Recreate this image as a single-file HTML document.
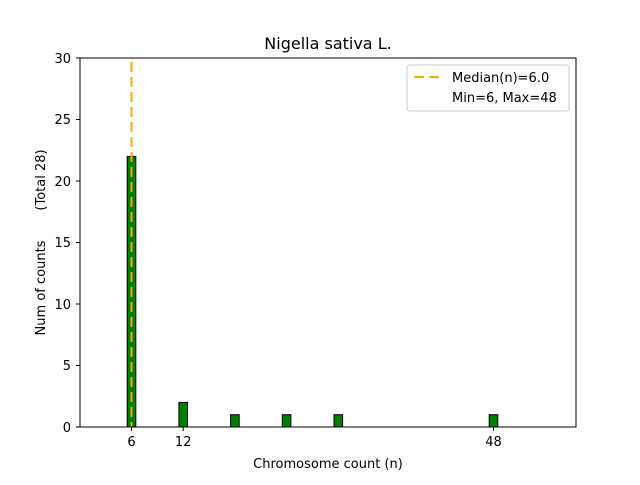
<!DOCTYPE html>
<html><head><meta charset="utf-8"><style>body{margin:0;background:#fff}</style></head><body>
<svg width="640" height="480" xmlns="http://www.w3.org/2000/svg" font-family="DejaVu Sans, Liberation Sans, sans-serif">
<rect width="640" height="480" fill="#fff"/>
<g fill="green" stroke="#000" stroke-width="1">
<rect x="127.2" y="156.4" width="8.6" height="270.6"/>
<rect x="178.9" y="402.4" width="8.6" height="24.6"/>
<rect x="230.6" y="414.7" width="8.6" height="12.3"/>
<rect x="282.3" y="414.7" width="8.6" height="12.3"/>
<rect x="334.0" y="414.7" width="8.6" height="12.3"/>
<rect x="489.2" y="414.7" width="8.6" height="12.3"/>
</g>
<line x1="135.8" y1="427" x2="523" y2="427" stroke="#000" stroke-width="1"/>
<line x1="131.5" y1="62" x2="131.5" y2="427" stroke="orange" stroke-width="2" stroke-dasharray="10,5"/>
<rect x="80" y="58" width="496" height="369" fill="none" stroke="#000" stroke-width="1"/>
<g stroke="#000">
<line x1="131.5" y1="427" x2="131.5" y2="431"/>
<line x1="183.2" y1="427" x2="183.2" y2="431"/>
<line x1="493.5" y1="427" x2="493.5" y2="431"/>
<line x1="76" y1="427" x2="80" y2="427"/>
<line x1="76" y1="365.5" x2="80" y2="365.5"/>
<line x1="76" y1="304" x2="80" y2="304"/>
<line x1="76" y1="242.5" x2="80" y2="242.5"/>
<line x1="76" y1="181" x2="80" y2="181"/>
<line x1="76" y1="119.5" x2="80" y2="119.5"/>
<line x1="76" y1="58" x2="80" y2="58"/>
</g>
<g font-size="13" fill="#000">
<g text-anchor="middle">
<text x="131.5" y="446">6</text>
<text x="183.2" y="446">12</text>
<text x="493.5" y="446">48</text>
<text x="328" y="468">Chromosome count (n)</text>
<text x="328" y="49" font-size="16">Nigella sativa L.</text>
</g>
<g text-anchor="end">
<text x="71" y="432">0</text>
<text x="71" y="370">5</text>
<text x="71" y="309">10</text>
<text x="71" y="247">15</text>
<text x="71" y="186">20</text>
<text x="71" y="124">25</text>
<text x="71" y="63">30</text>
</g>
<text transform="translate(45,288) rotate(-90)" text-anchor="middle">Num of counts</text>
<text transform="translate(45,180) rotate(-90)" text-anchor="middle">(Total 28)</text>
</g>
<rect x="407" y="65" width="162" height="46" rx="3" fill="#fff" stroke="#ccc"/>
<line x1="414" y1="77" x2="442" y2="77" stroke="orange" stroke-width="2" stroke-dasharray="10,5"/>
<text x="452" y="82" font-size="13">Median(n)=6.0</text>
<text x="452" y="102" font-size="13">Min=6, Max=48</text>
</svg>
</body></html>
